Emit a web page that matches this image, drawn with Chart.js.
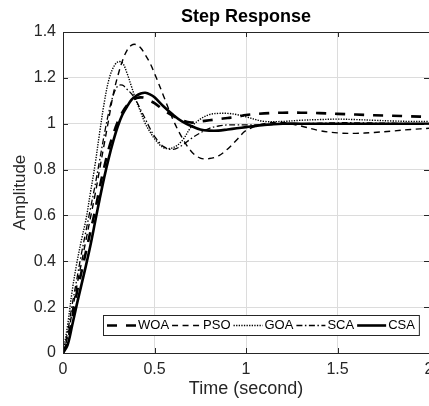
<!DOCTYPE html>
<html><head><meta charset="utf-8">
<script src="https://cdn.jsdelivr.net/npm/chart.js@4"></script>
<style>html,body{margin:0;padding:0;background:#fff;}canvas{display:block;}</style>
</head><body>
<canvas id="c" width="429" height="406"></canvas>
<script>
// ---- data ----
const time = [0, 0.025, 0.05, 0.075, 0.1, 0.125, 0.15, 0.175, 0.2, 0.225, 0.25, 0.275, 0.3, 0.325, 0.35, 0.375, 0.4, 0.425, 0.45, 0.475, 0.5, 0.55, 0.6, 0.65, 0.7, 0.75, 0.8, 0.85, 0.9, 0.95, 1.0, 1.1, 1.2, 1.3, 1.4, 1.5, 1.6, 1.7, 1.8, 1.9, 2.0];
const woa = [0, 0.05, 0.15, 0.26, 0.35, 0.44, 0.53, 0.62, 0.72, 0.81, 0.89, 0.955, 1.01, 1.05, 1.08, 1.10, 1.112, 1.115, 1.112, 1.10, 1.09, 1.06, 1.035, 1.015, 1.005, 1.01, 1.015, 1.02, 1.025, 1.03, 1.038, 1.045, 1.048, 1.048, 1.046, 1.043, 1.04, 1.037, 1.035, 1.032, 1.03];
const pso = [0, 0.07, 0.18, 0.29, 0.39, 0.49, 0.59, 0.69, 0.80, 0.91, 1.02, 1.13, 1.21, 1.275, 1.32, 1.343, 1.345, 1.33, 1.30, 1.265, 1.22, 1.12, 1.02, 0.94, 0.88, 0.85, 0.848, 0.86, 0.89, 0.93, 0.97, 1.0, 1.005, 0.99, 0.97, 0.96, 0.958, 0.962, 0.968, 0.975, 0.98];
const goa = [0, 0.12, 0.27, 0.39, 0.49, 0.58, 0.70, 0.82, 0.96, 1.09, 1.19, 1.245, 1.27, 1.265, 1.22, 1.16, 1.10, 1.05, 1.0, 0.965, 0.935, 0.895, 0.895, 0.925, 0.985, 1.02, 1.04, 1.045, 1.045, 1.04, 1.03, 1.01, 1.01, 1.015, 1.018, 1.02, 1.018, 1.015, 1.012, 1.01, 1.01];
const sca = [0, 0.09, 0.21, 0.32, 0.43, 0.53, 0.63, 0.73, 0.84, 0.95, 1.05, 1.125, 1.165, 1.168, 1.15, 1.13, 1.10, 1.06, 1.02, 0.98, 0.945, 0.90, 0.888, 0.905, 0.935, 0.96, 0.98, 0.99, 0.995, 0.995, 0.995, 0.995, 0.998, 1.0, 1.002, 1.004, 1.004, 1.003, 1.002, 1.001, 1.0];
const csa = [0, 0.035, 0.12, 0.21, 0.295, 0.38, 0.47, 0.57, 0.67, 0.765, 0.85, 0.925, 0.99, 1.04, 1.075, 1.105, 1.122, 1.132, 1.135, 1.128, 1.115, 1.075, 1.04, 1.01, 0.99, 0.975, 0.97, 0.97, 0.975, 0.98, 0.985, 0.995, 1.0, 1.0, 1.0, 1.0, 1.0, 1.0, 1.0, 1.0, 1.0];
const seriesLabels = ['WOA', 'PSO', 'GOA', 'SCA', 'CSA'];
const xTicks = [0, 0.5, 1, 1.5, 2];
const yTicks = [0, 0.2, 0.4, 0.6, 0.8, 1, 1.2, 1.4];

// ---- styles ----
const FONT = "'Liberation Sans', Arial, Helvetica, sans-serif";
const AXIS = '#262626';
const lineStyles = [
  {w: 2.6, dash: [10, 9]},
  {w: 1.4, dash: [6, 4.5]},
  {w: 1.4, dash: [1.3, 1.3]},
  {w: 1.3, dash: [6, 2.5, 1.5, 2.5]},
  {w: 2.6, dash: []}
];
const seriesValues = [woa, pso, goa, sca, csa];

const datasets = seriesLabels.map((lab, i) => ({
  label: lab,
  data: time.map((t, k) => ({x: t, y: seriesValues[i][k]})),
  borderColor: '#000',
  borderWidth: lineStyles[i].w,
  borderDash: lineStyles[i].dash,
  pointRadius: 0,
  fill: false,
  tension: 0.35
}));

const framePlugin = {
  id: 'frame',
  afterDatasetsDraw(chart) {
    const {ctx, chartArea: a, scales: {x, y}} = chart;
    ctx.save();
    ctx.strokeStyle = AXIS;
    ctx.lineWidth = 1;
    ctx.setLineDash([]);
    ctx.strokeRect(Math.round(a.left) + 0.5, Math.round(a.top) + 0.5, a.right - a.left, a.bottom - a.top);
    const L = 5;
    ctx.beginPath();
    xTicks.forEach(v => {
      const px = Math.round(x.getPixelForValue(v)) + 0.5;
      ctx.moveTo(px, a.bottom); ctx.lineTo(px, a.bottom - L);
      ctx.moveTo(px, a.top); ctx.lineTo(px, a.top + L);
    });
    yTicks.forEach(v => {
      const py = Math.round(y.getPixelForValue(v)) + 0.5;
      ctx.moveTo(a.left, py); ctx.lineTo(a.left + L, py);
      ctx.moveTo(a.right, py); ctx.lineTo(a.right - L, py);
    });
    ctx.stroke();
    ctx.restore();
  },
  afterDraw(chart) {
    const {ctx} = chart;
    ctx.save();
    ctx.font = '13px ' + FONT;
    const lineLen = 29, gapA = 2, gapB = 3;
    const left = 103, top = 315, h = 20;
    let w = 4;
    chart.data.datasets.forEach(ds => { w += lineLen + gapA + ctx.measureText(ds.label).width + gapB; });
    w += 1;
    ctx.fillStyle = '#fff';
    ctx.fillRect(left, top, w, h);
    ctx.strokeStyle = AXIS;
    ctx.lineWidth = 1;
    ctx.strokeRect(left + 0.5, top + 0.5, w, h);
    let cx = left + 4;
    const cy = top + h / 2 + 0.5;
    chart.data.datasets.forEach(ds => {
      ctx.beginPath();
      ctx.strokeStyle = '#000';
      ctx.lineWidth = ds.borderWidth;
      ctx.setLineDash(ds.borderDash);
      ctx.moveTo(cx, cy); ctx.lineTo(cx + lineLen, cy);
      ctx.stroke();
      ctx.setLineDash([]);
      cx += lineLen + gapA;
      ctx.fillStyle = '#000';
      ctx.textBaseline = 'middle';
      ctx.textAlign = 'left';
      ctx.fillText(ds.label, cx, cy);
      cx += ctx.measureText(ds.label).width + gapB;
    });
    ctx.restore();
  }
};

new Chart(document.getElementById('c'), {
  type: 'line',
  data: {datasets},
  plugins: [framePlugin],
  options: {
    responsive: false,
    animation: false,
    events: [],
    layout: {padding: 0},
    plugins: {
      legend: {display: false},
      tooltip: {enabled: false},
      title: {
        display: true,
        text: 'Step Response',
        fullSize: false,
        color: '#000',
        font: {family: FONT, size: 18, weight: 'bold', lineHeight: 1.2},
        padding: {top: 6, bottom: 4.4}
      }
    },
    scales: {
      x: {
        type: 'linear', min: 0, max: 2,
        afterBuildTicks: s => { s.ticks = xTicks.map(v => ({value: v})); },
        afterFit: s => { s.height = 53; s.paddingLeft = 0; s.paddingRight = 0; },
        grid: {color: '#dcdcdc', lineWidth: 1, drawTicks: false},
        border: {display: false},
        ticks: {color: AXIS, padding: 7, maxRotation: 0, autoSkip: false, font: {family: FONT, size: 16}, callback: v => String(v)},
        title: {display: true, text: 'Time (second)', color: AXIS, font: {family: FONT, size: 18}, padding: {top: 0, bottom: 6}}
      },
      y: {
        type: 'linear', min: 0, max: 1.4,
        afterBuildTicks: s => { s.ticks = yTicks.map(v => ({value: v})); },
        afterFit: s => { s.width = 63; },
        grid: {color: '#dcdcdc', lineWidth: 1, drawTicks: false},
        border: {display: false},
        ticks: {color: AXIS, padding: 7, autoSkip: false, font: {family: FONT, size: 16}, callback: v => String(v)},
        title: {display: true, text: 'Amplitude', color: AXIS, font: {family: FONT, size: 17}, padding: {top: 10, bottom: 0}}
      }
    }
  }
});
</script>
</body></html>
